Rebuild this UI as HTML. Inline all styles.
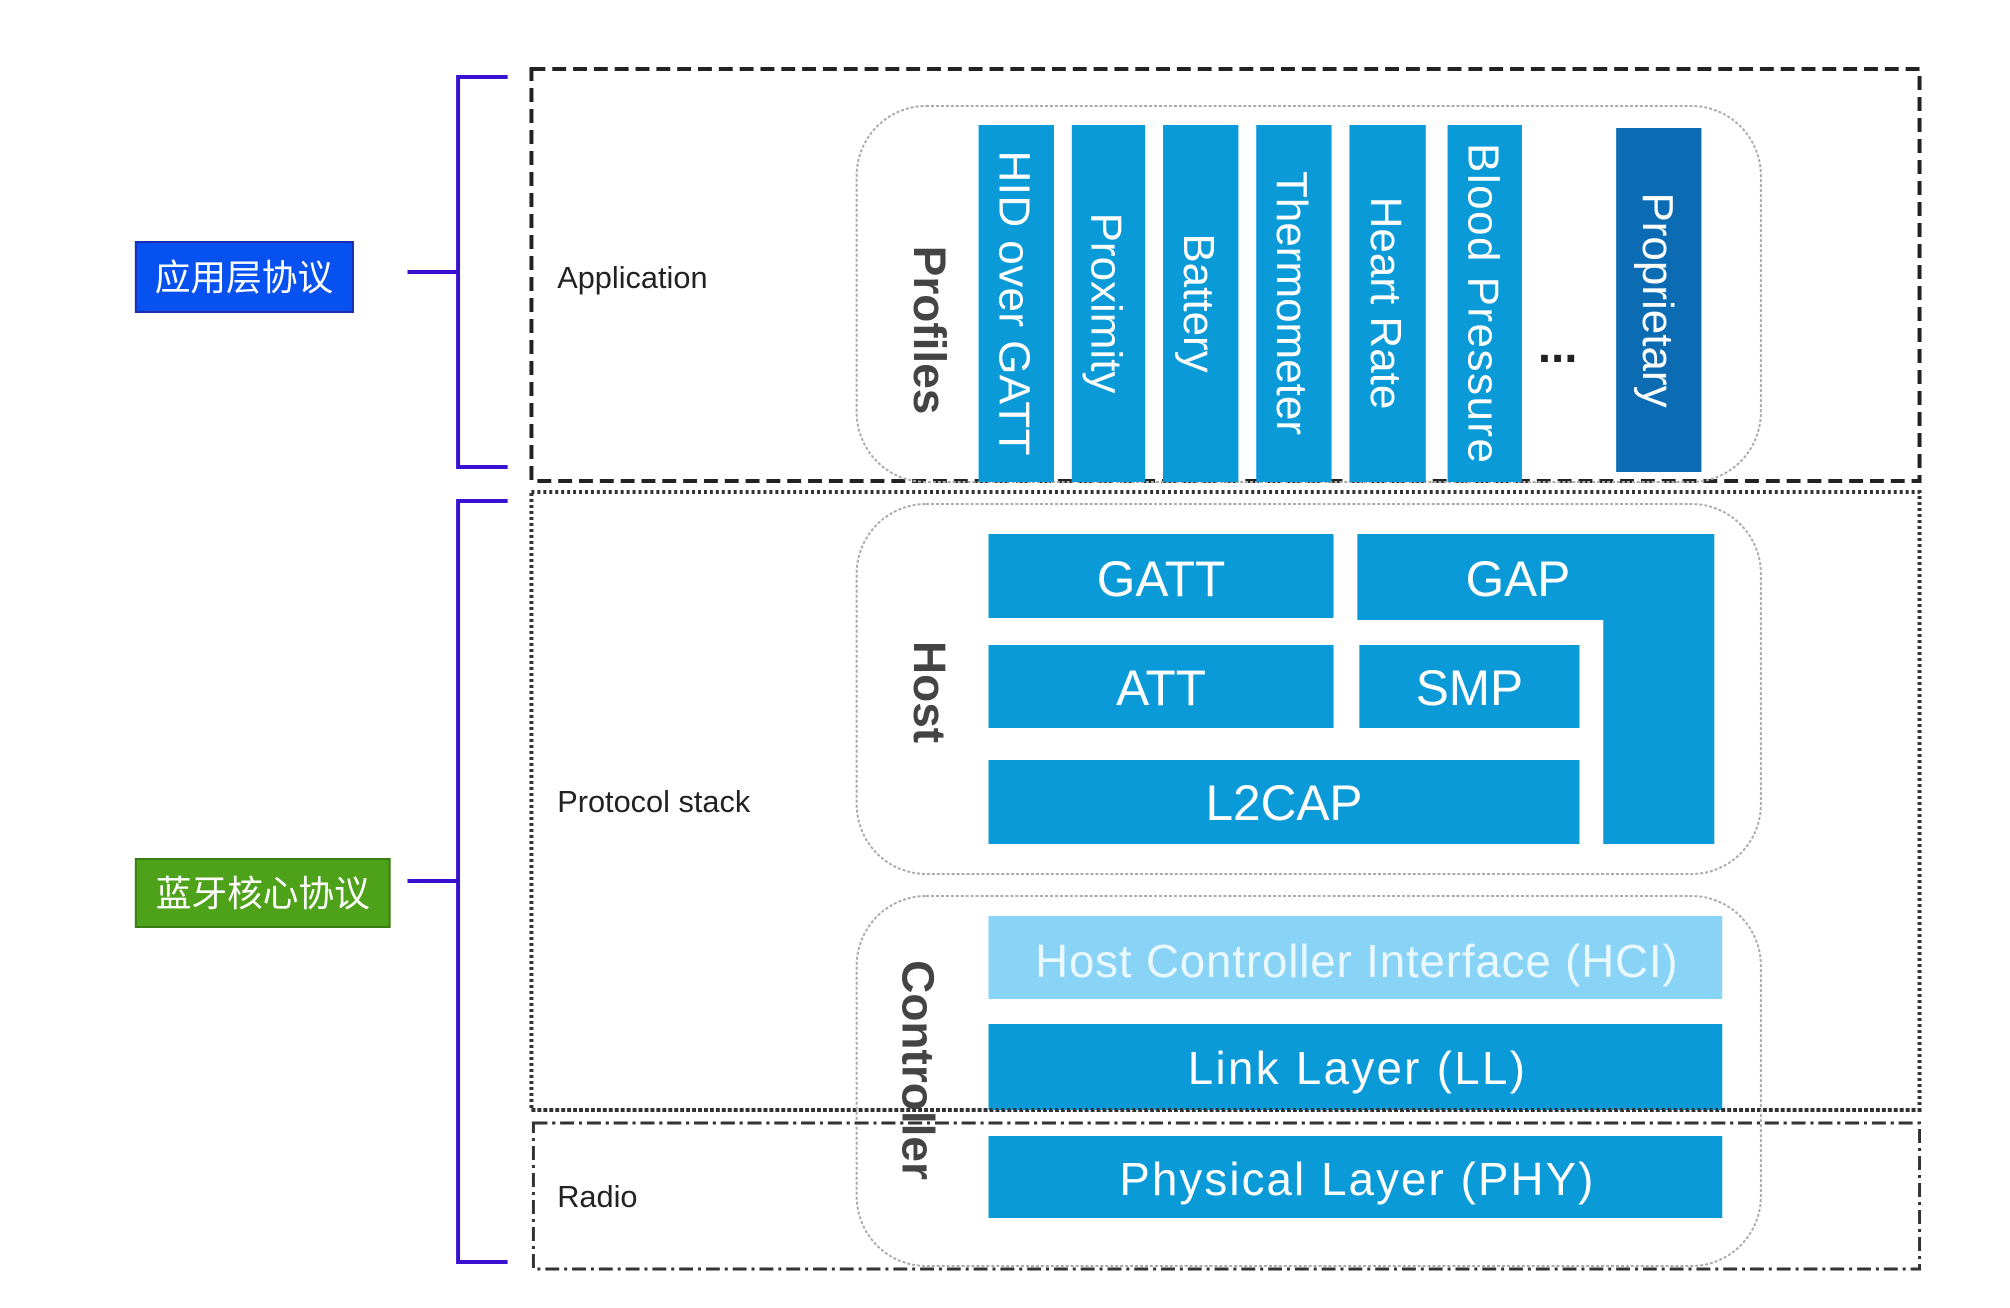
<!DOCTYPE html>
<html><head><meta charset="utf-8"><style>html,body{margin:0;padding:0;background:#fff}svg{display:block}</style></head>
<body>
<svg width="2010" height="1308" viewBox="0 0 2010 1308" xmlns="http://www.w3.org/2000/svg" font-family="Liberation Sans, sans-serif">
<rect width="2010" height="1308" fill="#fff"/>
<g transform="scale(0.9915,1)">
<rect x="137" y="242" width="219" height="70" fill="#0651f0" stroke="#1a2fb0" stroke-width="2"/>
<text x="246" y="290" font-size="36" fill="#fff" text-anchor="middle" font-family="Liberation Sans, Noto Sans CJK SC, sans-serif">应用层协议</text>
<rect x="137" y="859" width="256" height="68" fill="#4ea21a" stroke="#3a7d12" stroke-width="2"/>
<text x="265" y="906" font-size="36" fill="#fff" text-anchor="middle" font-family="Liberation Sans, Noto Sans CJK SC, sans-serif">蓝牙核心协议</text>
<g stroke="#3a10d0" stroke-width="4" fill="none">
<path d="M512 77 H462 V467 H512"/><path d="M411 272 H462"/>
<path d="M512 501 H462 V1262 H512"/><path d="M411 881 H462"/>
</g>
<rect x="536" y="69" width="1400" height="412" fill="none" stroke="#222" stroke-width="4" stroke-dasharray="14 7"/>
<rect x="536" y="492" width="1400" height="618" fill="none" stroke="#333" stroke-width="4" stroke-dasharray="3 3"/>
<rect x="538" y="1123" width="1398" height="146" fill="none" stroke="#333" stroke-width="3" stroke-dasharray="14 5 3 5"/>
<g font-size="31" fill="#222">
<text x="562" y="288">Application</text>
<text x="562" y="812">Protocol stack</text>
<text x="562" y="1207">Radio</text>
</g>
<g fill="none" stroke="#aaa" stroke-width="2" stroke-dasharray="3 2">
<rect x="864" y="106" width="912" height="376" rx="70"/>
<rect x="864" y="504" width="912" height="370" rx="70"/>
<rect x="864" y="896" width="912" height="370" rx="70"/>
</g>
<g font-size="46" font-weight="bold" fill="#444">
<text transform="translate(922,330) rotate(90)" text-anchor="middle">Profiles</text>
<text transform="translate(922,692) rotate(90)" text-anchor="middle">Host</text>
<text transform="translate(910,1070) rotate(90)" text-anchor="middle">Controller</text>
</g>
<g fill="#0a9ad8">
<rect x="987" y="125" width="76" height="357"/>
<rect x="1081" y="125" width="74" height="357"/>
<rect x="1173" y="125" width="76" height="357"/>
<rect x="1267" y="125" width="76" height="357"/>
<rect x="1361" y="125" width="77" height="357"/>
<rect x="1460" y="125" width="75" height="357"/>
</g>
<rect x="1630" y="128" width="86" height="344" fill="#0b6cb4"/>
<g font-size="44" fill="#fff">
<text transform="translate(1008,303) rotate(90)" text-anchor="middle" textLength="305">HID over GATT</text>
<text transform="translate(1101,303) rotate(90)" text-anchor="middle">Proximity</text>
<text transform="translate(1194,303) rotate(90)" text-anchor="middle">Battery</text>
<text transform="translate(1288,303) rotate(90)" text-anchor="middle">Thermometer</text>
<text transform="translate(1383,303) rotate(90)" text-anchor="middle">Heart Rate</text>
<text transform="translate(1481,303) rotate(90)" text-anchor="middle" textLength="320">Blood Pressure</text>
<text transform="translate(1657,300) rotate(90)" text-anchor="middle">Proprietary</text>
</g>
<text x="1571" y="362" font-size="48" font-weight="bold" fill="#222" text-anchor="middle">...</text>
<g fill="#0a9ad8">
<rect x="997" y="534" width="348" height="84"/>
<path d="M1369 534 H1729 V844 H1617 V620 H1369 Z"/>
<rect x="997" y="645" width="348" height="83"/>
<rect x="1371" y="645" width="222" height="83"/>
<rect x="997" y="760" width="596" height="84"/>
</g>
<g font-size="50" fill="#fff" text-anchor="middle">
<text x="1171" y="596">GATT</text>
<text x="1531" y="596">GAP</text>
<text x="1171" y="705">ATT</text>
<text x="1482" y="705">SMP</text>
<text x="1295" y="820">L2CAP</text>
</g>
<rect x="997" y="916" width="740" height="83" fill="#88d3f6"/>
<rect x="997" y="1024" width="740" height="86" fill="#0a9ad8"/>
<rect x="997" y="1136" width="740" height="82" fill="#0a9ad8"/>
<g font-size="46" fill="#fff" text-anchor="middle">
<text x="1368" y="977" fill="#eaf8ff" textLength="648">Host Controller Interface (HCI)</text>
<text x="1368" y="1084" textLength="340">Link Layer (LL)</text>
<text x="1368" y="1195" textLength="478">Physical Layer (PHY)</text>
</g>
<line x1="536" y1="1110" x2="1936" y2="1110" stroke="#333" stroke-width="4" stroke-dasharray="3 3"/>
<line x1="538" y1="1123" x2="1936" y2="1123" stroke="#333" stroke-width="3" stroke-dasharray="14 5 3 5"/>
</g>
</svg>
</body></html>
